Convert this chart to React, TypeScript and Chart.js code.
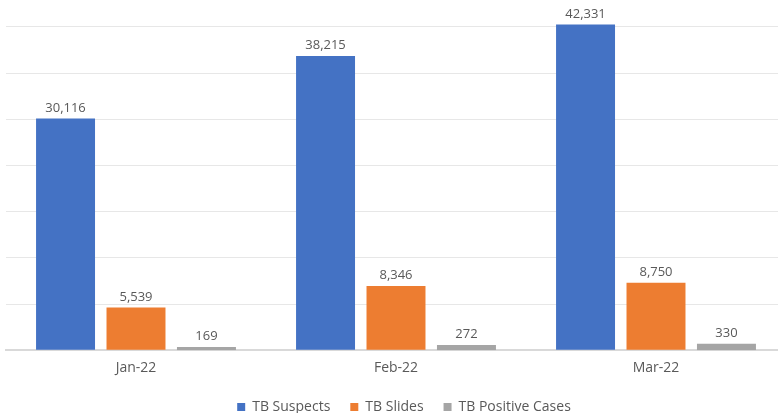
import React, { useEffect, useRef } from "react";
import { Chart, registerables } from "chart.js";

Chart.register(...registerables);

const categories = ["Jan-22", "Feb-22", "Mar-22"];
const seriesNames = ["TB Suspects", "TB Slides", "TB Positive Cases"];
const tbSuspects = [30116, 38215, 42331];
const tbSlides = [5539, 8346, 8750];
const tbPositive = [169, 272, 330];
const seriesColors = ["#4472C4", "#ED7D31", "#A5A5A5"];
const yMax = 45500;
const yStep = 6000;
const y2Max = 18000;

const FONT = "'Open Sans', 'DejaVu Sans', sans-serif";
const TEXT = "#595959";

const labelPlugin = {
  id: "valueLabels",
  afterDatasetsDraw(chart: any) {
    const ctx = chart.ctx;
    ctx.save();
    ctx.font = `13px ${FONT}`;
    ctx.fillStyle = TEXT;
    ctx.textAlign = "center";
    ctx.textBaseline = "bottom";
    chart.data.datasets.forEach((ds: any, i: number) => {
      const meta = chart.getDatasetMeta(i);
      meta.data.forEach((bar: any, j: number) => {
        const v = ds.data[j] as number;
        ctx.fillText(v.toLocaleString("en-US"), bar.x, bar.y - 4);
      });
    });
    ctx.restore();
  },
};

const shiftLegend = {
  id: "shiftLegend",
  afterLayout(chart: any) {
    if (chart.legend) {
      chart.legend.left += 8;
      chart.legend.right += 8;
      chart.legend.top += 3;
      chart.legend.bottom += 3;
    }
  },
};

export default function App() {
  const ref = useRef<HTMLCanvasElement>(null);
  useEffect(() => {
    if (!ref.current) return;
    const chart = new Chart(ref.current, {
      type: "bar",
      data: {
        labels: categories,
        datasets: [tbSuspects, tbSlides, tbPositive].map((d, i) => ({
          label: seriesNames[i],
          data: d,
          backgroundColor: seriesColors[i],
          borderWidth: 0,
          categoryPercentage: 0.813,
          barPercentage: 0.837,
          yAxisID: i === 2 ? "y2" : "y",
        })),
      },
      options: {
        animation: false,
        responsive: false,
        maintainAspectRatio: false,
        layout: { padding: { left: 6, right: 14, top: 0, bottom: 6 } },
        plugins: {
          tooltip: { enabled: false },
          legend: {
            position: "bottom",
            labels: {
              boxWidth: 8,
              boxHeight: 8,
              padding: 20,
              color: TEXT,
              font: { family: FONT, size: 14 },
            },
          },
        },
        scales: {
          x: {
            grid: { display: false },
            border: { display: true, color: "#D9D9D9", width: 2 },
            ticks: { color: TEXT, font: { family: FONT, size: 14 }, padding: 1 },
          },
          y: {
            min: 0,
            max: yMax,
            afterBuildTicks: (scale: any) => {
              const t = [];
              for (let v = 0; v <= yMax; v += yStep) t.push({ value: v });
              scale.ticks = t;
            },
            afterFit: (scale: any) => {
              scale.width = 0;
            },
            ticks: { display: false },
            border: { display: false },
            grid: {
              color: (c: any) => (c.tick && c.tick.value === 0 ? "rgba(0,0,0,0)" : "#E7E7E7"),
              drawTicks: false,
              lineWidth: 1,
            },
          },
          y2: {
            display: false,
            min: 0,
            max: y2Max,
            position: "right",
            grid: { display: false },
          },
        },
      },
      plugins: [labelPlugin, shiftLegend],
    });
    return () => chart.destroy();
  }, []);
  return (
    <div style={{ position: "fixed", left: 0, top: 0, width: 778, height: 413, overflow: "hidden", background: "#fff" }}>
      <canvas ref={ref} width={800} height={427} style={{ width: 800, height: 427, display: "block" }} />
    </div>
  );
}
